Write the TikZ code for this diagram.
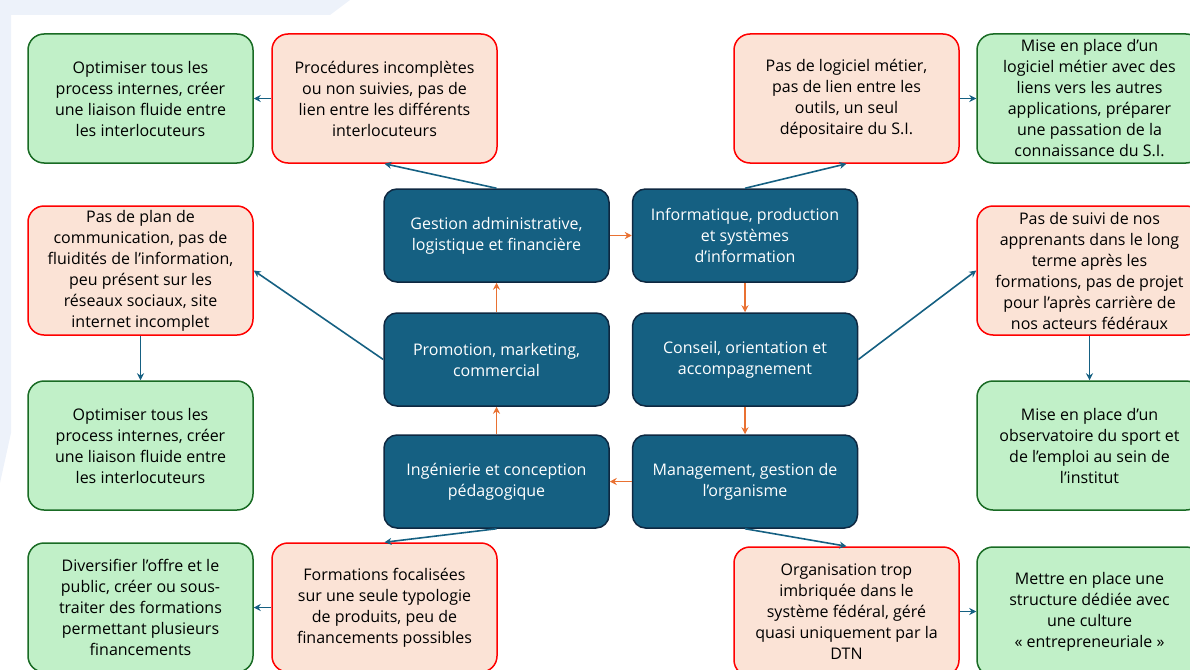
\documentclass[tikz,border=0pt]{standalone}
\usepackage{fontspec}
\setmainfont{Open Sans}
\usetikzlibrary{positioning,arrows.meta}
\definecolor{polefill}{HTML}{156082}
\definecolor{poleline}{HTML}{0E2841}
\definecolor{kofill}{HTML}{FBE3D6}
\definecolor{koline}{HTML}{FF0000}
\definecolor{okfill}{HTML}{C1F0C8}
\definecolor{okline}{HTML}{196B24}
\definecolor{linkblue}{HTML}{156082}
\definecolor{linkorange}{HTML}{E97132}
\definecolor{backdrop}{HTML}{EDF2FA}
\tikzset{
  box/.style={draw,rounded corners=16,line width=1.5,align=center,
    minimum width=225,minimum height=129,inner sep=3,
    font=\fontsize{16}{21}\selectfont},
  ko/.style={box,draw=koline,fill=kofill},
  ok/.style={box,draw=okline,fill=okfill},
  pole/.style={box,draw=poleline,fill=polefill,text=white,
    minimum height=93,rounded corners=13},
  blueline/.style={draw=linkblue,line width=1.6},
  orangeline/.style={draw=linkorange,line width=1.6}
}
\begin{document}
\begin{tikzpicture}[x=1pt,y=-1pt,node distance=244,>={Stealth[length=7,width=7]}]

\clip (0,0) rectangle (1190,669);
\fill[backdrop] (0,0) -- (350,0) -- (330,15) -- (11,15) -- (11,433) -- (0,483) -- cycle;

\node[pole] (b1) at (496.5,235.5) {Gestion administrative,\\logistique et financière};
\node[pole] (b2) at (745,235.5) {Informatique, production\\et systèmes\\d’information};
\node[pole] (b3) at (496.5,359.5) {Promotion, marketing,\\commercial};
\node[pole] (b4) at (745,359.5) {Conseil, orientation et\\accompagnement};
\node[pole] (b5) at (496.5,481.5) {Ingénierie et conception\\pédagogique};
\node[pole] (b6) at (745,481.5) {Management, gestion de\\l’organisme};

\node[ko] (p1) at (384.5,98.5) {Procédures incomplètes\\ou non suivies, pas de\\lien entre les différents\\interlocuteurs};
\node[ko] (p2) at (846.5,98.5) {Pas de logiciel métier,\\pas de lien entre les\\outils, un seul\\dépositaire du S.I.};
\node[ko] (p3) at (140.5,270.5) {Pas de plan de\\communication, pas de\\fluidités de l’information,\\peu présent sur les\\réseaux sociaux, site\\internet incomplet};
\node[ko] (p4) at (1089.5,270.5) {Pas de suivi de nos\\apprenants dans le long\\terme après les\\formations, pas de projet\\pour l’après carrière de\\nos acteurs fédéraux};
\node[ko] (p5) at (384.5,607.5) {Formations focalisées\\sur une seule typologie\\de produits, peu de\\financements possibles};
\node[ko] (p6) at (846.5,611.5) {Organisation trop\\imbriquée dans le\\système fédéral, géré\\quasi uniquement par la\\DTN};

\node[ok] (s1) [left of = p1] {Optimiser tous les\\process internes, créer\\une liaison fluide entre\\les interlocuteurs};
\node[ok,node distance=243] (s2) [right of = p2] {Mise en place d’un\\logiciel métier avec des\\liens vers les autres\\applications, préparer\\une passation de la\\connaissance du S.I.};
\node[ok,node distance=175] (s3) [below of = p3] {Optimiser tous les\\process internes, créer\\une liaison fluide entre\\les interlocuteurs};
\node[ok,node distance=175] (s4) [below of = p4] {Mise en place d’un\\observatoire du sport et\\de l’emploi au sein de\\l’institut};
\node[ok] (s5) [left of = p5] {Diversifier l’offre et le\\public, créer ou sous-\\traiter des formations\\permettant plusieurs\\financements};
\node[ok,node distance=243] (s6) [right of = p6] {Mettre en place une\\structure dédiée avec\\une culture\\« entrepreneuriale »};

\path[blueline,->] (b1.north) -- (p1.south);
\path[blueline,->] (b2.north) -- (p2.south);
\path[blueline,->] (b3.west) -- (p3.east);
\path[blueline,->] (b4.east) -- (p4.west);
\path[blueline,->] (b5.south) -- (p5.north);
\path[blueline,->] (b6.south) -- (p6.north);

\path[blueline,->] (p1) -- (s1);
\path[blueline,->] (p2) -- (s2);
\path[blueline,->] (p3) -- (s3);
\path[blueline,->] (p4) -- (s4);
\path[blueline,->] (p5) -- (s5);
\path[blueline,->] (p6) -- (s6);

\path[orangeline,->] (b1) -- (b2);
\path[orangeline,->] (b2) -- (b4);
\path[orangeline,->] (b4) -- (b6);
\path[orangeline,->] (b6) -- (b5);
\path[orangeline,->] (b5) -- (b3);
\path[orangeline,->] (b3) -- (b1);

\end{tikzpicture}
\end{document}
